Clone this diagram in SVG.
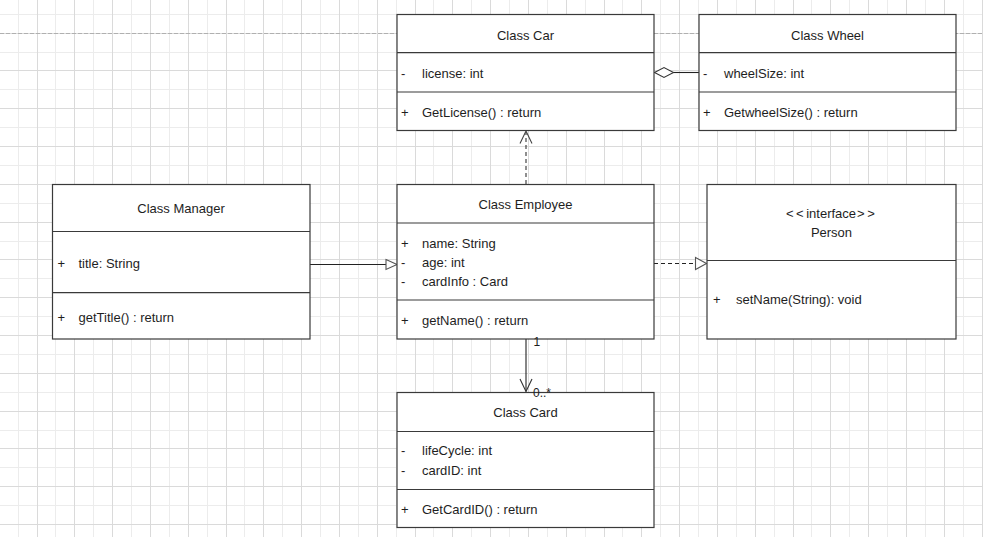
<svg xmlns="http://www.w3.org/2000/svg" width="983" height="537" viewBox="0 0 983 537">
<style>
.minor{stroke:#ececec;stroke-width:1;fill:none}
.major{stroke:#dadada;stroke-width:1;fill:none}
.box{fill:#fff;stroke:#3a3a3a;stroke-width:1.2}
.div{stroke:#3a3a3a;stroke-width:1.2}
text{font-family:"Liberation Sans",Arial,sans-serif;font-size:13px;fill:#1e1e1e}
.t{text-anchor:middle}
.lbl{font-size:12px}
.ln{stroke:#222;stroke-width:1.1;fill:none}
.dash{stroke:#222;stroke-width:1.1;fill:none;stroke-dasharray:4 3}
.head{stroke:#555;stroke-width:1.1;fill:#fff}
.open{stroke:#444;stroke-width:1.1;fill:none}
</style>
<rect width="983" height="537" fill="#fff"/>
<g id="grid">
<path class="minor" d="M18.5 0V537M55.5 0V537M93.5 0V537M131.5 0V537M169.5 0V537M207.5 0V537M244.5 0V537M282.5 0V537M320.5 0V537M358.5 0V537M396.5 0V537M433.5 0V537M471.5 0V537M509.5 0V537M547.5 0V537M585.5 0V537M622.5 0V537M660.5 0V537M698.5 0V537M736.5 0V537M774.5 0V537M811.5 0V537M849.5 0V537M887.5 0V537M925.5 0V537M963.5 0V537M0 14.5H983M0 52.5H983M0 89.5H983M0 127.5H983M0 165.5H983M0 203.5H983M0 241.5H983M0 278.5H983M0 316.5H983M0 354.5H983M0 392.5H983M0 430.5H983M0 467.5H983M0 505.5H983"/>
<path class="major" d="M37.5 0V537M74.5 0V537M112.5 0V537M150.5 0V537M188.5 0V537M226.5 0V537M263.5 0V537M301.5 0V537M339.5 0V537M377.5 0V537M415.5 0V537M452.5 0V537M490.5 0V537M528.5 0V537M566.5 0V537M604.5 0V537M641.5 0V537M679.5 0V537M717.5 0V537M755.5 0V537M793.5 0V537M830.5 0V537M868.5 0V537M906.5 0V537M944.5 0V537M982.5 0V537M0 33.5H983M0 70.5H983M0 108.5H983M0 146.5H983M0 184.5H983M0 222.5H983M0 259.5H983M0 297.5H983M0 335.5H983M0 373.5H983M0 411.5H983M0 448.5H983M0 486.5H983M0 524.5H983"/>
<path d="M0 33.5H983" stroke="#b0b0b0" stroke-width="1" stroke-dasharray="4 2" fill="none"/>
</g>
<g id="connectors">
<line class="ln" x1="673" y1="72.5" x2="699" y2="72.5"/>
<polygon class="head" points="654.5,72.5 664,67.5 673.5,72.5 664,77.5" style="stroke:#333"/>
<line class="dash" x1="526" y1="184" x2="526" y2="132" style="stroke:#333"/>
<polyline class="open" points="520,143.5 526,131 532,143.5"/>
<line class="ln" x1="310" y1="264.5" x2="386" y2="264.5"/>
<polygon class="head" points="386,259.5 397,264.5 386,269.5"/>
<line class="dash" x1="654" y1="263.5" x2="695.5" y2="263.5"/>
<polygon class="head" points="695.5,257.5 706.5,263.5 695.5,269.5"/>
<line class="ln" x1="526" y1="339" x2="526" y2="391.5"/>
<polyline class="open" points="520,379 526,391.5 532,379" style="stroke:#333"/>
</g>
<g id="car">
<rect class="box" x="397" y="14.5" width="257" height="116"/>
<line class="div" x1="397" y1="52.7" x2="654" y2="52.7"/>
<line class="div" x1="397" y1="92" x2="654" y2="92"/>
<text class="t" x="525.5" y="39.5">Class Car</text>
<text x="401" y="77.5">-</text><text x="422" y="77.5">license: int</text>
<text x="401" y="116.5">+</text><text x="422" y="116.5">GetLicense() : return</text>
</g>
<g id="wheel">
<rect class="box" x="699" y="14.5" width="257" height="116"/>
<line class="div" x1="699" y1="52.7" x2="956" y2="52.7"/>
<line class="div" x1="699" y1="92" x2="956" y2="92"/>
<text class="t" x="827.5" y="39.5">Class Wheel</text>
<text x="703" y="77.5">-</text><text x="724" y="77.5">wheelSize: int</text>
<text x="703" y="116.5">+</text><text x="724" y="116.5">GetwheelSize() : return</text>
</g>
<g id="manager">
<rect class="box" x="52.5" y="184.5" width="257.5" height="154.5"/>
<line class="div" x1="52.5" y1="231.5" x2="310" y2="231.5"/>
<line class="div" x1="52.5" y1="292.7" x2="310" y2="292.7"/>
<text class="t" x="181" y="213">Class Manager</text>
<text x="57.5" y="268">+</text><text x="78.5" y="268">title: String</text>
<text x="57.5" y="322">+</text><text x="78.5" y="322">getTitle() : return</text>
</g>
<g id="employee">
<rect class="box" x="397" y="184.5" width="257" height="154.5"/>
<line class="div" x1="397" y1="223" x2="654" y2="223"/>
<line class="div" x1="397" y1="300" x2="654" y2="300"/>
<text class="t" x="525.5" y="208.5">Class Employee</text>
<text x="401" y="247.5">+</text><text x="422" y="247.5">name: String</text>
<text x="401" y="266.5">-</text><text x="422" y="266.5">age: int</text>
<text x="401" y="285.5">-</text><text x="422" y="285.5">cardInfo : Card</text>
<text x="401" y="324.5">+</text><text x="422" y="324.5">getName() : return</text>
</g>
<g id="person">
<rect class="box" x="707" y="184.5" width="249" height="154.5"/>
<line class="div" x1="707" y1="260.5" x2="956" y2="260.5"/>
<text x="786" y="218"><tspan letter-spacing="2.5">&lt;&lt;</tspan>interface<tspan dx="1" letter-spacing="2.5">&gt;&gt;</tspan></text>
<text class="t" x="831.5" y="237">Person</text>
<text x="713" y="304">+</text><text x="736" y="304">setName(String): void</text>
</g>
<g id="card">
<rect class="box" x="397" y="392.5" width="257" height="135"/>
<line class="div" x1="397" y1="431.5" x2="654" y2="431.5"/>
<line class="div" x1="397" y1="489.5" x2="654" y2="489.5"/>
<text class="t" x="525.5" y="416.5">Class Card</text>
<text x="401" y="455">-</text><text x="422" y="455">lifeCycle: int</text>
<text x="401" y="474.5">-</text><text x="422" y="474.5">cardID: int</text>
<text x="401" y="513.5">+</text><text x="422" y="513.5">GetCardID() : return</text>
</g>
<g id="labels">
<text class="lbl" x="533.5" y="345.5">1</text>
<text class="lbl" x="533" y="397">0..*</text>
</g>
</svg>
